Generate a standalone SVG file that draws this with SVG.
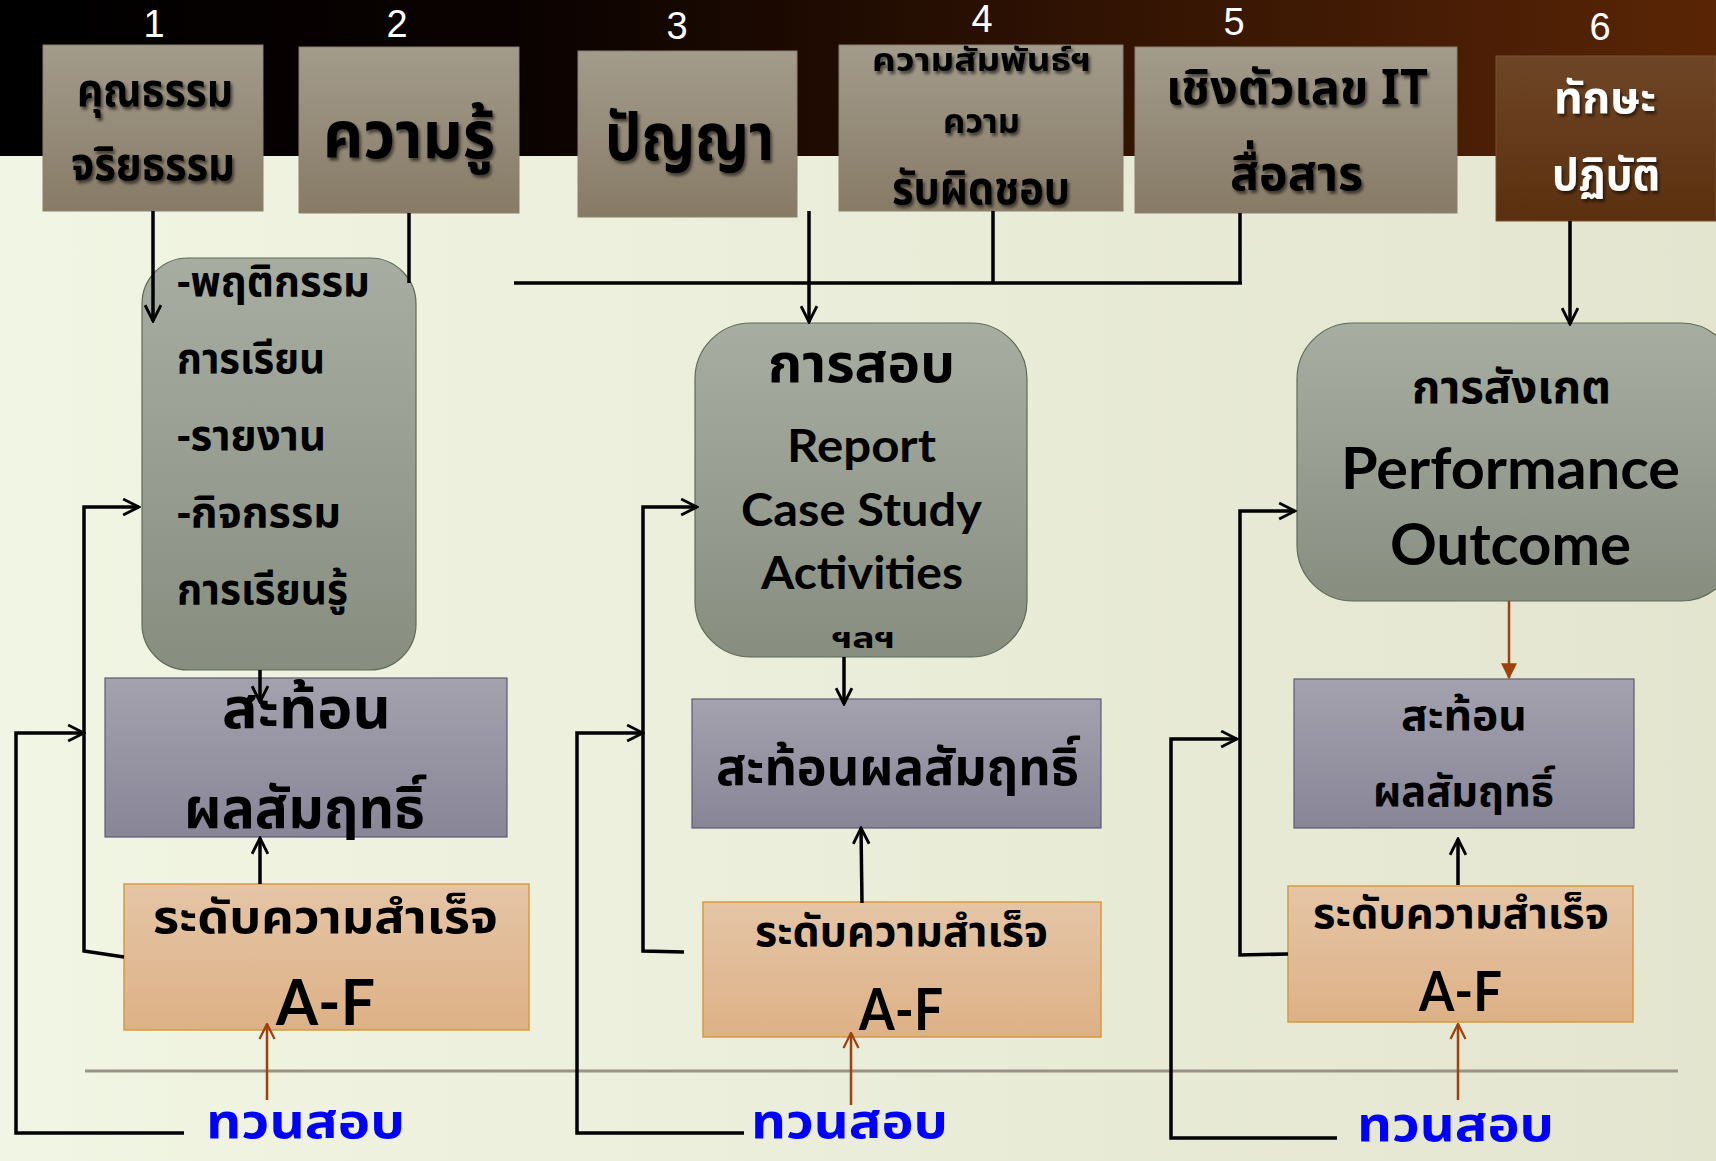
<svg xmlns="http://www.w3.org/2000/svg" width="1716" height="1161" viewBox="0 0 1716 1161">
<defs>
<linearGradient id="bg" x1="0" y1="0" x2="1" y2="0"><stop offset="0" stop-color="#f1f5e3"/><stop offset="1" stop-color="#e3e5cf"/></linearGradient>
<linearGradient id="hdr" x1="0" y1="0" x2="1" y2="0"><stop offset="0" stop-color="#000"/><stop offset="0.3" stop-color="#0a0200"/><stop offset="1" stop-color="#5a2506"/></linearGradient>
<linearGradient id="tan" x1="0" y1="0" x2="0" y2="1"><stop offset="0" stop-color="#a39b8b"/><stop offset="1" stop-color="#877b66"/></linearGradient>
<linearGradient id="brn" x1="0" y1="0" x2="0" y2="1"><stop offset="0" stop-color="#6e4526"/><stop offset="1" stop-color="#5a300f"/></linearGradient>
<linearGradient id="grn" x1="0" y1="0" x2="0" y2="1"><stop offset="0" stop-color="#a8ada1"/><stop offset="1" stop-color="#878e80"/></linearGradient>
<linearGradient id="pur" x1="0" y1="0" x2="0" y2="1"><stop offset="0" stop-color="#a4a2ae"/><stop offset="1" stop-color="#888597"/></linearGradient>
<linearGradient id="org" x1="0" y1="0" x2="0" y2="1"><stop offset="0" stop-color="#e5c5a6"/><stop offset="1" stop-color="#ddb186"/></linearGradient>
<filter id="sh" x="-10%" y="-10%" width="120%" height="130%"><feDropShadow dx="2" dy="3" stdDeviation="1.5" flood-color="#000" flood-opacity="0.55"/></filter>
<marker id="ab" viewBox="0 0 12 12" refX="11" refY="6" markerWidth="19" markerHeight="19" markerUnits="userSpaceOnUse" orient="auto"><path d="M1,1 L11,6 L1,11" fill="none" stroke="#000" stroke-width="1.8"/></marker>
<marker id="ar" viewBox="0 0 12 12" refX="11" refY="6" markerWidth="18" markerHeight="18" markerUnits="userSpaceOnUse" orient="auto"><path d="M1,1 L11,6 L1,11" fill="none" stroke="#a0400c" stroke-width="1.5"/></marker>
<marker id="at" viewBox="0 0 12 12" refX="11" refY="6" markerWidth="16" markerHeight="16" markerUnits="userSpaceOnUse" orient="auto"><path d="M0,0 L12,6 L0,12 Z" fill="#a0400c"/></marker>
</defs>
<style>
.th{font-family:"Noto Sans Thai","Noto Serif Thai","Loma","Garuda","Norasi","DejaVu Sans","Noto Sans",sans-serif;fill:#000;font-weight:bold}
.en{font-family:Lato,"Open Sans","Liberation Sans",sans-serif;font-weight:bold;fill:#000}
.num{font-family:"Liberation Sans Narrow","Liberation Sans",sans-serif;fill:#fff;font-size:38px}
.c{text-anchor:middle}
.box{stroke:#8a8070;stroke-width:1}
.ln{fill:none;stroke:#000;stroke-width:3.5}
.lr{fill:none;stroke:#a0400c;stroke-width:2.5}
.blue{fill:#0000ff}
</style>
<rect x="0" y="0" width="1716" height="1161" fill="url(#bg)"/>
<rect x="0" y="0" width="1716" height="156" fill="url(#hdr)"/>
<line x1="85" y1="1071" x2="1678" y2="1071" stroke="#9a9284" stroke-width="3"/>

<g id="numbers">
<text class="num c" x="154" y="37">1</text>
<text class="num c" x="397" y="37">2</text>
<text class="num c" x="677" y="39">3</text>
<text class="num c" x="982" y="32">4</text>
<text class="num c" x="1234" y="35">5</text>
<text class="num c" x="1600" y="40">6</text>
</g>

<g id="n1"><rect class="box" x="43" y="45" width="220" height="166" fill="url(#tan)"/>
<g filter="url(#sh)"><text class="th" x="77" y="106" font-size="46" textLength="156" lengthAdjust="spacingAndGlyphs">คุณธรรม</text>
<text class="th" x="71" y="180" font-size="46" textLength="164" lengthAdjust="spacingAndGlyphs">จริยธรรม</text></g></g>

<g id="n2"><rect class="box" x="299" y="47" width="220" height="166" fill="url(#tan)"/>
<g filter="url(#sh)"><text class="th" x="323" y="158" font-size="66" textLength="172" lengthAdjust="spacingAndGlyphs">ความรู้</text></g></g>

<g id="n3"><rect class="box" x="578" y="51" width="219" height="166" fill="url(#tan)"/>
<g filter="url(#sh)"><text class="th" x="605" y="160" font-size="66" textLength="169" lengthAdjust="spacingAndGlyphs">ปัญญา</text></g></g>

<g id="n4"><rect class="box" x="839" y="45" width="284" height="166" fill="url(#tan)"/>
<g filter="url(#sh)"><text class="th" x="872" y="71" font-size="32" textLength="219" lengthAdjust="spacingAndGlyphs">ความสัมพันธ์ฯ</text>
<text class="th" x="943" y="133" font-size="34" textLength="77" lengthAdjust="spacingAndGlyphs">ความ</text>
<text class="th" x="892" y="204" font-size="46" textLength="178" lengthAdjust="spacingAndGlyphs">รับผิดชอบ</text></g></g>

<g id="n5"><rect class="box" x="1135" y="47" width="322" height="166" fill="url(#tan)"/>
<g filter="url(#sh)"><text class="th" x="1166" y="104" font-size="48" textLength="262" lengthAdjust="spacingAndGlyphs">เชิงตัวเลข IT</text>
<text class="th" x="1230" y="190" font-size="48" textLength="133" lengthAdjust="spacingAndGlyphs">สื่อสาร</text></g></g>

<g id="n6"><rect x="1496" y="56" width="220" height="165" fill="url(#brn)" stroke="#7a5030"/>
<g filter="url(#sh)"><text class="th" x="1554" y="113" font-size="44" textLength="102" lengthAdjust="spacingAndGlyphs" style="fill:#fff">ทักษะ</text>
<text class="th" x="1552" y="190" font-size="44" textLength="108" lengthAdjust="spacingAndGlyphs" style="fill:#fff">ปฏิบัติ</text></g></g>

<g id="r1"><rect x="142" y="258" width="274" height="412" rx="46" fill="url(#grn)" stroke="#5f6a58" stroke-width="1.2"/>
<text class="th" x="177" y="296" font-size="42" textLength="193" lengthAdjust="spacingAndGlyphs">-พฤติกรรม</text>
<text class="th" x="177" y="373" font-size="42" textLength="148" lengthAdjust="spacingAndGlyphs">การเรียน</text>
<text class="th" x="177" y="450" font-size="42" textLength="149" lengthAdjust="spacingAndGlyphs">-รายงาน</text>
<text class="th" x="177" y="527" font-size="42" textLength="164" lengthAdjust="spacingAndGlyphs">-กิจกรรม</text>
<text class="th" x="177" y="604" font-size="42" textLength="171" lengthAdjust="spacingAndGlyphs">การเรียนรู้</text></g>

<g id="p1"><rect x="105" y="678" width="402" height="159" fill="url(#pur)" stroke="#5c5a78" stroke-width="1.2"/>
<text class="th" x="222" y="728" font-size="56" textLength="169" lengthAdjust="spacingAndGlyphs">สะท้อน</text>
<text class="th" x="184" y="828" font-size="56" textLength="241" lengthAdjust="spacingAndGlyphs">ผลสัมฤทธิ์</text></g>

<g id="o1"><rect x="124" y="884" width="405" height="146" fill="url(#org)" stroke="#d59a40" stroke-width="1.5"/>
<text class="th" x="153" y="933" font-size="46" textLength="345" lengthAdjust="spacingAndGlyphs">ระดับความสำเร็จ</text>
<text class="en" x="276" y="1025" font-size="64" textLength="99" lengthAdjust="spacingAndGlyphs">A-F</text></g>

<g id="r2"><rect x="695" y="323" width="332" height="334" rx="56" fill="url(#grn)" stroke="#5f6a58" stroke-width="1.2"/>
<text class="th" x="768" y="382" font-size="54" textLength="187" lengthAdjust="spacingAndGlyphs">การสอบ</text>
<text class="en" x="787" y="462" font-size="46" textLength="149" lengthAdjust="spacingAndGlyphs">Report</text>
<text class="en" x="741" y="526" font-size="46" textLength="241" lengthAdjust="spacingAndGlyphs">Case Study</text>
<text class="en" x="761" y="589" font-size="46" textLength="202" lengthAdjust="spacingAndGlyphs">Activities</text>
<text class="th" x="832" y="648" font-size="28" textLength="63" lengthAdjust="spacingAndGlyphs">ฯลฯ</text></g>

<g id="p2"><rect x="692" y="699" width="409" height="129" fill="url(#pur)" stroke="#5c5a78" stroke-width="1.2"/>
<text class="th" x="716" y="785" font-size="52" textLength="363" lengthAdjust="spacingAndGlyphs">สะท้อนผลสัมฤทธิ์</text></g>

<g id="o2"><rect x="703" y="902" width="398" height="135" fill="url(#org)" stroke="#d59a40" stroke-width="1.5"/>
<text class="th" x="755" y="946" font-size="42" textLength="293" lengthAdjust="spacingAndGlyphs">ระดับความสำเร็จ</text>
<text class="en" x="859" y="1030" font-size="58" textLength="84" lengthAdjust="spacingAndGlyphs">A-F</text></g>

<g id="r3"><rect x="1297" y="323" width="440" height="278" rx="56" fill="url(#grn)" stroke="#5f6a58" stroke-width="1.2"/>
<text class="th" x="1412" y="403" font-size="46" textLength="199" lengthAdjust="spacingAndGlyphs">การสังเกต</text>
<text class="en" x="1341" y="489" font-size="58" textLength="339" lengthAdjust="spacingAndGlyphs">Performance</text>
<text class="en" x="1390" y="565" font-size="58" textLength="241" lengthAdjust="spacingAndGlyphs">Outcome</text></g>

<g id="p3"><rect x="1294" y="679" width="340" height="149" fill="url(#pur)" stroke="#5c5a78" stroke-width="1.2"/>
<text class="th" x="1401" y="730" font-size="42" textLength="126" lengthAdjust="spacingAndGlyphs">สะท้อน</text>
<text class="th" x="1373" y="806" font-size="42" textLength="181" lengthAdjust="spacingAndGlyphs">ผลสัมฤทธิ์</text></g>

<g id="o3"><rect x="1288" y="886" width="345" height="136" fill="url(#org)" stroke="#d59a40" stroke-width="1.5"/>
<text class="th" x="1313" y="928" font-size="42" textLength="296" lengthAdjust="spacingAndGlyphs">ระดับความสำเร็จ</text>
<text class="en" x="1419" y="1011" font-size="56" textLength="83" lengthAdjust="spacingAndGlyphs">A-F</text></g>

<g id="t1"><text class="th blue" x="206" y="1138" font-size="48" textLength="199" lengthAdjust="spacingAndGlyphs">ทวนสอบ</text></g>
<g id="t2"><text class="th blue" x="751" y="1138" font-size="48" textLength="197" lengthAdjust="spacingAndGlyphs">ทวนสอบ</text></g>
<g id="t3"><text class="th blue" x="1357" y="1141" font-size="48" textLength="197" lengthAdjust="spacingAndGlyphs">ทวนสอบ</text></g>

<g id="connectors">
<line class="ln" x1="153" y1="211" x2="153" y2="321" marker-end="url(#ab)"/>
<line class="ln" x1="409" y1="213" x2="409" y2="283"/>
<polyline class="ln" points="514,283 1242,283"/>
<line class="ln" x1="993" y1="211" x2="993" y2="283"/>
<line class="ln" x1="1240" y1="213" x2="1240" y2="284"/>
<line class="ln" x1="809" y1="211" x2="809" y2="322" marker-end="url(#ab)"/>
<line class="ln" x1="1570" y1="221" x2="1570" y2="324" marker-end="url(#ab)"/>

<line class="ln" x1="260" y1="670" x2="260" y2="702" marker-end="url(#ab)"/>
<line class="ln" x1="260" y1="884" x2="260" y2="838" marker-end="url(#ab)"/>
<line class="lr" x1="267" y1="1100" x2="267" y2="1024" marker-end="url(#ar)"/>
<polyline class="ln" points="124,957 84,951 84,507 139,507" marker-end="url(#ab)"/>
<polyline class="ln" points="184,1133 16,1133 16,733 84,733" marker-end="url(#ab)"/>

<line class="ln" x1="844" y1="657" x2="844" y2="704" marker-end="url(#ab)"/>
<line class="ln" x1="862" y1="903" x2="861" y2="828" marker-end="url(#ab)"/>
<line class="lr" x1="851" y1="1105" x2="851" y2="1033" marker-end="url(#ar)"/>
<polyline class="ln" points="684,952 643,951 643,507 697,507" marker-end="url(#ab)"/>
<polyline class="ln" points="744,1133 577,1133 577,733 643,733" marker-end="url(#ab)"/>

<line class="lr" x1="1509" y1="601" x2="1509" y2="678" marker-end="url(#at)"/>
<line class="ln" x1="1458" y1="885" x2="1458" y2="839" marker-end="url(#ab)"/>
<line class="lr" x1="1458" y1="1100" x2="1458" y2="1024" marker-end="url(#ar)"/>
<polyline class="ln" points="1288,954 1240,955 1240,511 1295,511" marker-end="url(#ab)"/>
<polyline class="ln" points="1337,1138 1171,1138 1171,739 1237,739" marker-end="url(#ab)"/>
</g>
</svg>
